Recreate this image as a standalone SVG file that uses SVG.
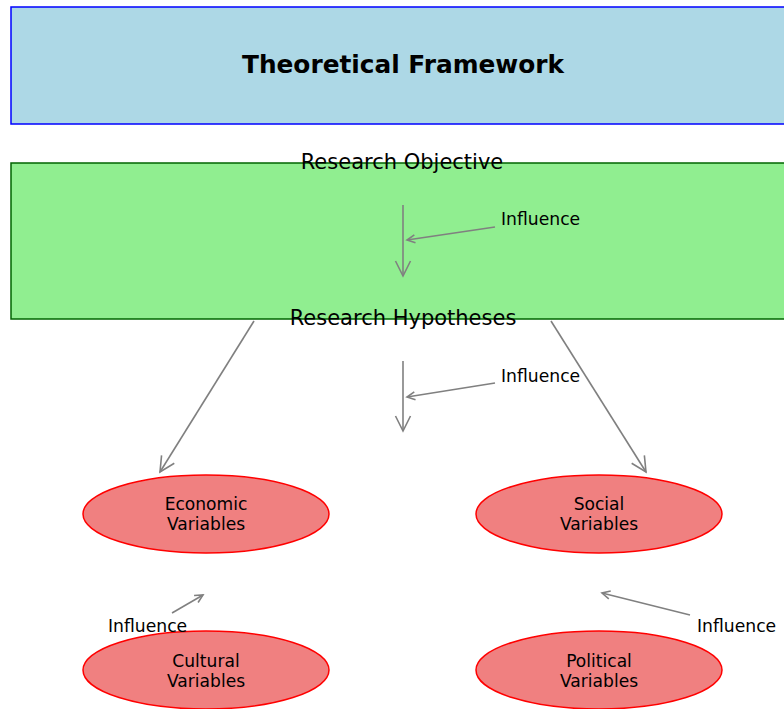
<svg xmlns="http://www.w3.org/2000/svg" width="784" height="709" viewBox="0 0 784 709">
<style>
text{font-family:"DejaVu Sans","Liberation Sans",sans-serif;fill:#000}
.t{font-size:24.8px;font-weight:bold;text-anchor:middle}
.h{font-size:21px;text-anchor:middle}
.n{font-size:17.1px;text-anchor:middle}
.i{font-size:17.2px}
.c{stroke:#808080;stroke-width:1.6;fill:none}
.big{marker-end:url(#mb)}
.sm{marker-end:url(#ms)}
.e{fill:#f08080;stroke:#ff0000;stroke-width:1.5}
</style>
<defs>
<marker id="mb" markerUnits="userSpaceOnUse" markerWidth="18" markerHeight="18" viewBox="-16 -9 18 18" refX="0" refY="0" orient="auto" overflow="visible">
<path d="M-15,-7.5 L0,0 L-15,7.5" fill="none" stroke="#808080" stroke-width="1.6"/>
</marker>
<marker id="ms" markerUnits="userSpaceOnUse" markerWidth="12" markerHeight="12" viewBox="-10 -6 12 12" refX="0" refY="0" orient="auto" overflow="visible">
<path d="M-8,-4 L0,0 L-8,4" fill="none" stroke="#808080" stroke-width="1.6"/>
</marker>
</defs>
<g id="framework">
<rect x="11" y="7" width="790" height="117" fill="#add8e6" stroke="#0000ff" stroke-width="1.5"/>
<text class="t" x="403" y="73">Theoretical Framework</text>
</g>
<g id="objective">
<rect x="11" y="163" width="790" height="156" fill="#90ee90" stroke="#006400" stroke-width="1.5"/>
<text class="h" x="402" y="169">Research Objective</text>
</g>
<g id="hypotheses">
<text class="h" x="403" y="325">Research Hypotheses</text>
</g>
<g id="economic">
<ellipse class="e" cx="206" cy="514" rx="123" ry="39"/>
<text class="n" x="206" y="510">Economic</text>
<text class="n" x="206" y="530">Variables</text>
</g>
<g id="social">
<ellipse class="e" cx="599" cy="514" rx="123" ry="39"/>
<text class="n" x="599" y="510">Social</text>
<text class="n" x="599" y="530">Variables</text>
</g>
<g id="cultural">
<ellipse class="e" cx="206" cy="670" rx="123" ry="39"/>
<text class="n" x="206" y="667">Cultural</text>
<text class="n" x="206" y="687">Variables</text>
</g>
<g id="political">
<ellipse class="e" cx="599" cy="670" rx="123" ry="39"/>
<text class="n" x="599" y="667">Political</text>
<text class="n" x="599" y="687">Variables</text>
</g>
<g id="connectors">
<line class="c big" x1="403" y1="205" x2="403" y2="276"/>
<line class="c sm" x1="495" y1="227" x2="407" y2="240"/>
<line class="c big" x1="403" y1="361" x2="403" y2="431"/>
<line class="c sm" x1="495" y1="383" x2="407" y2="397"/>
<line class="c big" x1="254" y1="321" x2="160" y2="472"/>
<line class="c big" x1="551" y1="321" x2="646" y2="472"/>
<line class="c sm" x1="172" y1="613" x2="203" y2="595"/>
<line class="c sm" x1="690" y1="615" x2="602" y2="593"/>
</g>
<g id="labels">
<text class="i" x="501" y="225">Influence</text>
<text class="i" x="501" y="382">Influence</text>
<text class="i" x="108" y="632">Influence</text>
<text class="i" x="697" y="632">Influence</text>
</g>
</svg>
